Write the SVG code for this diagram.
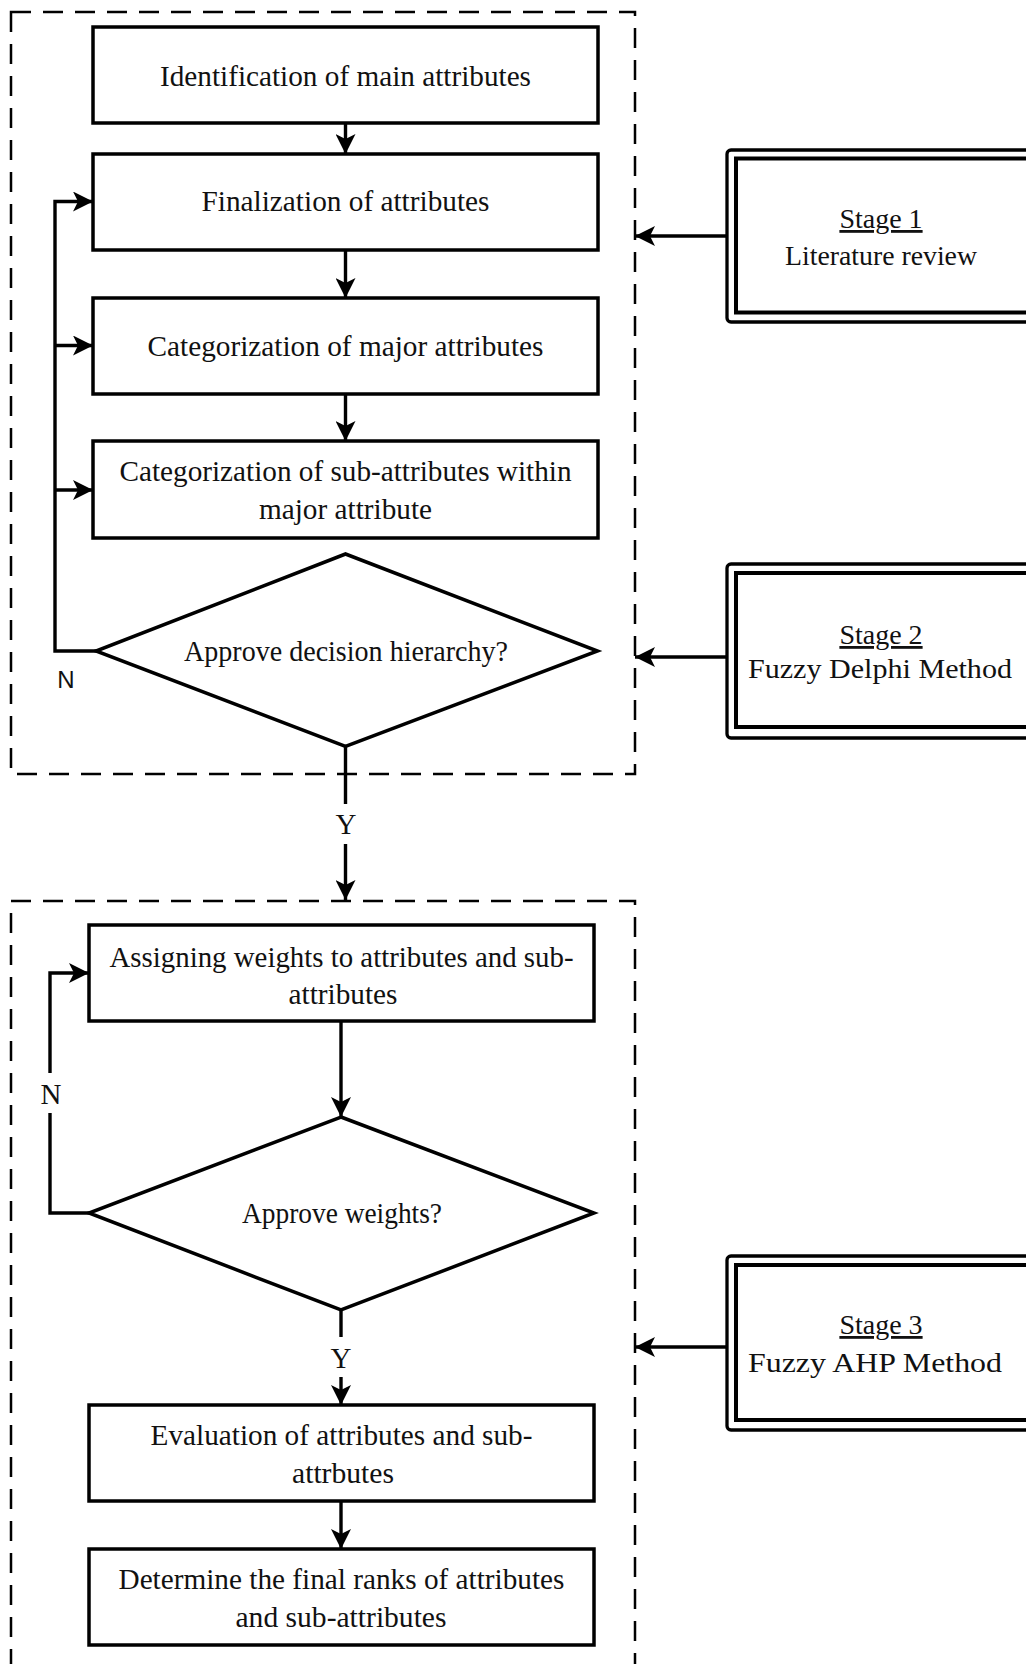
<svg xmlns="http://www.w3.org/2000/svg" width="1026" height="1664" viewBox="0 0 1026 1664">
<style>
.box{fill:#fff;stroke:#000;stroke-width:3.5}
.dia{fill:#fff;stroke:#000;stroke-width:3.5;stroke-linejoin:miter}
.dash{fill:none;stroke:#000;stroke-width:2.5;stroke-dasharray:20 12}
.conn{fill:none;stroke:#000;stroke-width:3.4}
.t{font-family:"Liberation Serif",serif;font-size:29px;text-anchor:middle;fill:#111}
.st{font-family:"Liberation Serif",serif;font-size:28px;text-anchor:middle;fill:#111}
.sans{font-family:"Liberation Sans",sans-serif;font-size:24px;text-anchor:middle;fill:#111}
.outer{fill:#fff;stroke:#000;stroke-width:3.3}
.inner{fill:#fff;stroke:#000;stroke-width:4}
</style>
<defs>
<marker id="ah" viewBox="0 0 20 20" refX="20" refY="10" markerWidth="20" markerHeight="20" markerUnits="userSpaceOnUse" orient="auto">
<path d="M0,0 L20,10 L0,20 L5,10 Z" fill="#000"/>
</marker>
</defs>
<rect width="1026" height="1664" fill="#fff"/>

<g id="phase1-frame"><rect class="dash" x="11" y="12" width="624" height="762"/></g>
<g id="phase2-frame"><rect class="dash" x="11" y="901" width="624" height="800"/></g>

<g id="connectors">
<line class="conn" x1="345.5" y1="123" x2="345.5" y2="154" marker-end="url(#ah)"/>
<line class="conn" x1="345.5" y1="250" x2="345.5" y2="298" marker-end="url(#ah)"/>
<line class="conn" x1="345.5" y1="394" x2="345.5" y2="441" marker-end="url(#ah)"/>
<polyline class="conn" points="96,651 55,651 55,201.5 93,201.5" marker-end="url(#ah)"/>
<line class="conn" x1="55" y1="345.5" x2="93" y2="345.5" marker-end="url(#ah)"/>
<line class="conn" x1="55" y1="490" x2="93" y2="490" marker-end="url(#ah)"/>
<line class="conn" x1="345.5" y1="746" x2="345.5" y2="804"/>
<line class="conn" x1="345.5" y1="844" x2="345.5" y2="900" marker-end="url(#ah)"/>
<line class="conn" x1="341" y1="1021" x2="341" y2="1117" marker-end="url(#ah)"/>
<polyline class="conn" points="89,1213 50,1213 50,1113"/>
<polyline class="conn" points="50,1073 50,973 89,973" marker-end="url(#ah)"/>
<line class="conn" x1="341" y1="1310" x2="341" y2="1337"/>
<line class="conn" x1="341" y1="1377" x2="341" y2="1405" marker-end="url(#ah)"/>
<line class="conn" x1="341" y1="1501" x2="341" y2="1549" marker-end="url(#ah)"/>
<line class="conn" x1="727" y1="236" x2="635" y2="236" marker-end="url(#ah)"/>
<line class="conn" x1="727" y1="657" x2="635" y2="657" marker-end="url(#ah)"/>
<line class="conn" x1="727" y1="1347" x2="635" y2="1347" marker-end="url(#ah)"/>
<text class="sans" x="66" y="688">N</text>
<text class="t" x="346" y="834">Y</text>
<text class="t" x="51" y="1104">N</text>
<text class="t" x="341" y="1368">Y</text>
</g>

<g id="n-identification">
<rect class="box" x="93" y="27" width="505" height="96"/>
<text class="t" x="345.5" y="86" textLength="371" lengthAdjust="spacingAndGlyphs">Identification of main attributes</text>
</g>
<g id="n-finalization">
<rect class="box" x="93" y="154" width="505" height="96"/>
<text class="t" x="345.5" y="211" textLength="288" lengthAdjust="spacingAndGlyphs">Finalization of attributes</text>
</g>
<g id="n-cat-major">
<rect class="box" x="93" y="298" width="505" height="96"/>
<text class="t" x="345.5" y="356" textLength="396" lengthAdjust="spacingAndGlyphs">Categorization of major attributes</text>
</g>
<g id="n-cat-sub">
<rect class="box" x="93" y="441" width="505" height="97"/>
<text class="t" x="345.5" y="481" textLength="452" lengthAdjust="spacingAndGlyphs">Categorization of sub-attributes within</text>
<text class="t" x="345.5" y="519" textLength="173" lengthAdjust="spacingAndGlyphs">major attribute</text>
</g>
<g id="n-approve-hierarchy">
<polygon class="dia" points="345.5,554 597.5,651 345.5,746.5 96,651"/>
<text class="t" x="346" y="661" textLength="324" lengthAdjust="spacingAndGlyphs">Approve decision hierarchy?</text>
</g>

<g id="n-assigning">
<rect class="box" x="89" y="925" width="505" height="96"/>
<text class="t" x="341.5" y="967" textLength="464" lengthAdjust="spacingAndGlyphs">Assigning weights to attributes and sub-</text>
<text class="t" x="343" y="1004" textLength="109" lengthAdjust="spacingAndGlyphs">attributes</text>
</g>
<g id="n-approve-weights">
<polygon class="dia" points="341,1117 594,1213 341,1310 89,1213"/>
<text class="t" x="342" y="1223" textLength="200" lengthAdjust="spacingAndGlyphs">Approve weights?</text>
</g>
<g id="n-evaluation">
<rect class="box" x="89" y="1405" width="505" height="96"/>
<text class="t" x="341.5" y="1445" textLength="382" lengthAdjust="spacingAndGlyphs">Evaluation of attributes and sub-</text>
<text class="t" x="343" y="1483" textLength="102" lengthAdjust="spacingAndGlyphs">attrbutes</text>
</g>
<g id="n-determine">
<rect class="box" x="89" y="1549" width="505" height="96"/>
<text class="t" x="341.5" y="1589" textLength="446" lengthAdjust="spacingAndGlyphs">Determine the final ranks of attributes</text>
<text class="t" x="341" y="1627" textLength="211" lengthAdjust="spacingAndGlyphs">and sub-attributes</text>
</g>

<g id="n-stage1">
<rect class="outer" x="727" y="150" width="320" height="172" rx="4"/>
<rect class="inner" x="736" y="158.5" width="310" height="154"/>
<text class="st" x="881" y="228" text-decoration="underline">Stage 1</text>
<text class="st" x="881" y="265" textLength="192" lengthAdjust="spacingAndGlyphs">Literature review</text>
</g>
<g id="n-stage2">
<rect class="outer" x="727" y="564" width="320" height="174" rx="4"/>
<rect class="inner" x="736" y="573" width="310" height="154"/>
<text class="st" x="881" y="644" text-decoration="underline">Stage 2</text>
<text class="st" x="880" y="678" textLength="264" lengthAdjust="spacingAndGlyphs">Fuzzy Delphi Method</text>
</g>
<g id="n-stage3">
<rect class="outer" x="727" y="1256" width="320" height="174" rx="4"/>
<rect class="inner" x="736" y="1265" width="310" height="155"/>
<text class="st" x="881" y="1334" text-decoration="underline">Stage 3</text>
<text class="st" x="875" y="1372" textLength="254" lengthAdjust="spacingAndGlyphs">Fuzzy AHP Method</text>
</g>
</svg>
